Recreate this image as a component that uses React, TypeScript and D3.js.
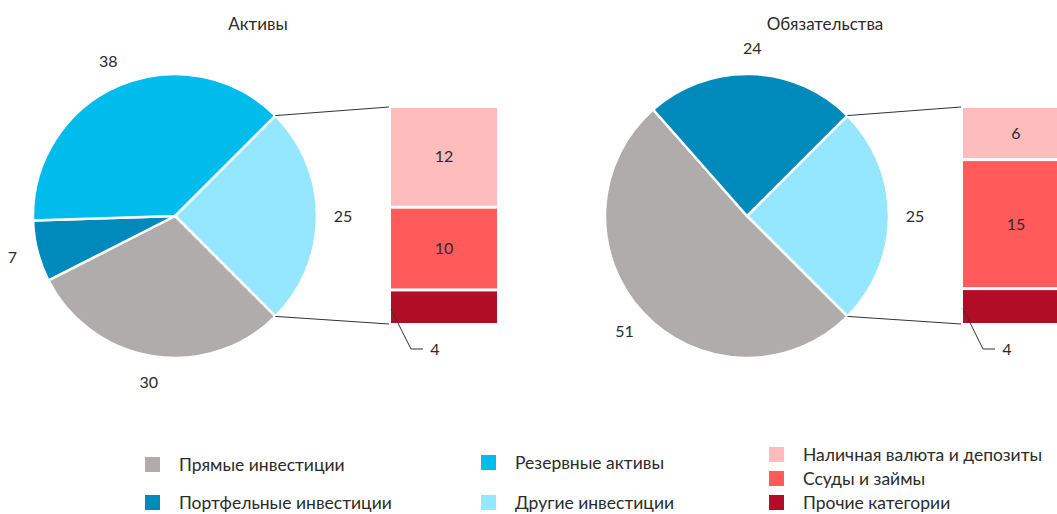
import React from 'react';
import * as d3 from 'd3';

// categories of the pies
const categories = ['Прямые инвестиции', 'Портфельные инвестиции', 'Резервные активы', 'Другие инвестиции'];
const categoryColors = ['#AFACAB', '#0089BB', '#00BCEC', '#94E7FE'];
const assetValues = [30, 7, 38, 25];
const liabilityValues = [51, 24, 0, 25];

// breakdown of "Другие инвестиции"
const otherCategories = ['Наличная валюта и депозиты', 'Ссуды и займы', 'Прочие категории'];
const otherColors = ['#FFBCBC', '#FF5B5B', '#B20D27'];
const assetOther = [12, 10, 4];
const liabilityOther = [6, 15, 4];

const titles = ['Активы', 'Обязательства'];

const FONT = 'Lato, "Open Sans", sans-serif';
const TEXT = '#2b2b2b';

interface PanelProps {
  title: string;
  values: number[];
  other: number[];
  cx: number;
  cy: number;
  titleX: number;
  barX: number;
}

const Panel: React.FC<PanelProps> = ({ title, values, other, cx, cy, titleX, barX }) => {
  const r = 142;
  const labelR = 168;
  // pie starts with "Другие инвестиции" at 45°, then clockwise
  const order = [3, 0, 1, 2];
  const pie = d3.pie<number>()
    .sort(null)
    .value(i => values[i])
    .startAngle(Math.PI / 4)
    .endAngle(Math.PI / 4 + Math.PI * 2);
  const arcs = pie(order);
  const arc = d3.arc<d3.PieArcDatum<number>>().innerRadius(0).outerRadius(r);
  const labelArc = d3.arc<d3.PieArcDatum<number>>().innerRadius(labelR).outerRadius(labelR);

  const otherArc = arcs.find(a => a.data === 3)!;
  const p0: [number, number] = [cx + r * Math.sin(otherArc.startAngle), cy - r * Math.cos(otherArc.startAngle)];
  const p1: [number, number] = [cx + r * Math.sin(otherArc.endAngle), cy - r * Math.cos(otherArc.endAngle)];

  const barTop = 108;
  const barBottom = 323;
  const barW = 106;
  const total = d3.sum(other);
  const y = d3.scaleLinear().domain([0, total]).range([barTop, barBottom]);
  const cum = [0, ...d3.cumsum(other)];
  const gap = 1.5;

  const lastY0 = y(cum[2]) + gap;
  const lastY1 = y(cum[3]);
  const leadStart: [number, number] = [barX, (lastY0 + lastY1) / 2 + 2];
  const leadMid: [number, number] = [barX + 20, barBottom + 26];
  const leadEnd: [number, number] = [barX + 32, barBottom + 26];

  return (
    <g>
      <text x={titleX} y={30} textAnchor="middle" fontSize={17} fill={TEXT} fontFamily={FONT}>{title}</text>
      {arcs.filter(a => a.value > 0).map(a => (
        <path key={a.data} d={arc(a) || ''} transform={`translate(${cx},${cy})`}
          fill={categoryColors[a.data]} stroke="#fff" strokeWidth={2.5} strokeLinejoin="round" />
      ))}
      {arcs.filter(a => a.value > 0).map(a => {
        const [lx, ly] = labelArc.centroid(a);
        return (
          <text key={'l' + a.data} x={cx + lx} y={cy + ly} dy="0.35em" textAnchor="middle"
            fontSize={16} fill={TEXT} fontFamily={FONT}>{a.value}</text>
        );
      })}
      <line x1={p0[0]} y1={p0[1]} x2={barX - 2} y2={barTop - 1} stroke="#333" strokeWidth={1} />
      <line x1={p1[0]} y1={p1[1]} x2={barX - 2} y2={barBottom + 1} stroke="#333" strokeWidth={1} />
      {other.map((v, i) => {
        const y0 = y(cum[i]) + (i > 0 ? gap : 0);
        const y1 = y(cum[i + 1]) - (i < other.length - 1 ? gap : 0);
        return (
          <g key={'b' + i}>
            <rect x={barX} y={y0} width={barW} height={y1 - y0} fill={otherColors[i]} />
            {i < other.length - 1 && (
              <text x={barX + barW / 2} y={(y0 + y1) / 2} dy="0.35em" textAnchor="middle"
                fontSize={16} fill={TEXT} fontFamily={FONT}>{v}</text>
            )}
          </g>
        );
      })}
      <polyline points={[leadStart, leadMid, leadEnd].map(p => p.join(',')).join(' ')}
        fill="none" stroke="#333" strokeWidth={1} />
      <text x={leadEnd[0] + 12} y={leadEnd[1]} dy="0.35em" textAnchor="middle"
        fontSize={16} fill={TEXT} fontFamily={FONT}>{other[other.length - 1]}</text>
    </g>
  );
};

const legendItems = [
  { label: categories[0], color: categoryColors[0], x: 145, y: 465 },
  { label: categories[1], color: categoryColors[1], x: 145, y: 503 },
  { label: categories[2], color: categoryColors[2], x: 481, y: 463 },
  { label: categories[3], color: categoryColors[3], x: 481, y: 503 },
  { label: otherCategories[0], color: otherColors[0], x: 769, y: 455 },
  { label: otherCategories[1], color: otherColors[1], x: 769, y: 479 },
  { label: otherCategories[2], color: otherColors[2], x: 769, y: 503 },
];

export default function App() {
  return (
    <svg width={1057} height={514} style={{ position: 'absolute', left: 0, top: 0, background: '#fff' }}>
      <Panel title={titles[0]} values={assetValues} other={assetOther} cx={175} cy={216} titleX={258} barX={391} />
      <Panel title={titles[1]} values={liabilityValues} other={liabilityOther} cx={747} cy={216} titleX={825} barX={963} />
      {legendItems.map(d => (
        <g key={d.label}>
          <rect x={d.x} y={d.y - 8} width={15} height={15} fill={d.color} />
          <text x={d.x + 34} y={d.y} dy="0.35em" fontSize={17.5} fill={TEXT} fontFamily={FONT}>{d.label}</text>
        </g>
      ))}
    </svg>
  );
}
